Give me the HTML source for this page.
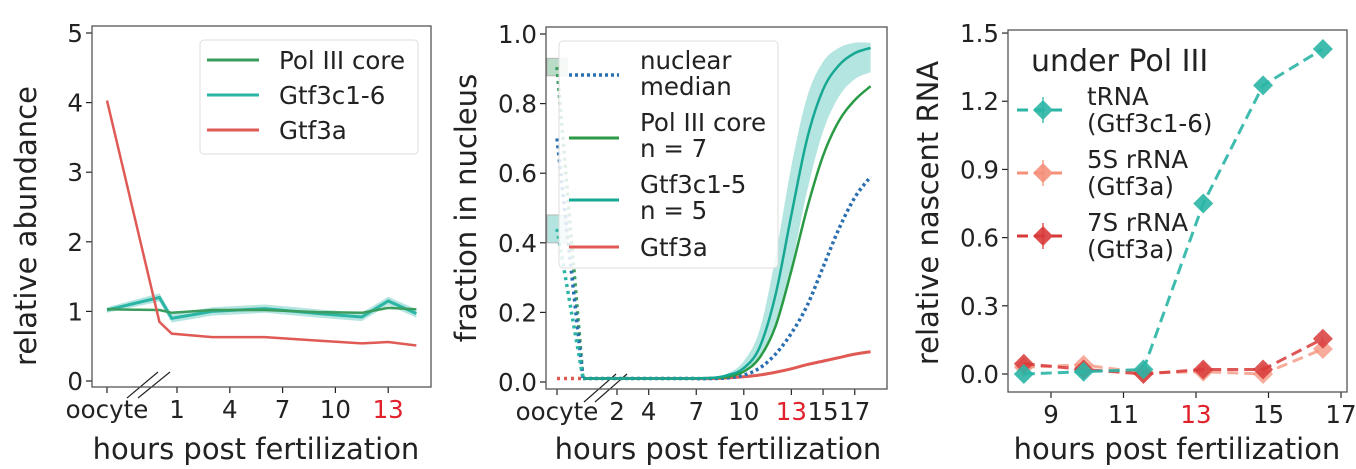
<!DOCTYPE html>
<html><head><meta charset="utf-8">
<style>
html,body{margin:0;padding:0;background:#fff;}
svg{display:block;font-family:"DejaVu Sans","Liberation Sans",sans-serif;}
</style></head>
<body>
<svg id="fig" width="1356" height="469" viewBox="0 0 1356 469" xmlns="http://www.w3.org/2000/svg"></svg>
<script>
// ---------- Panel 1 data ----------
const p1Hours = [0, 0.7, 3, 6, 9, 11.5, 13, 14.6];
const p1Gtf3aOocyte = 4.03;
const p1Gtf3a = [0.85, 0.68, 0.63, 0.63, 0.58, 0.54, 0.56, 0.51];
const p1Gtf3cOocyte = 1.02;
const p1Gtf3c = [1.2, 0.9, 1.0, 1.04, 0.97, 0.92, 1.15, 0.97];
const p1PolOocyte = 1.03;
const p1Pol = [1.02, 0.98, 1.02, 1.02, 0.99, 0.98, 1.05, 1.03];
const p1YTicks = [0, 1, 2, 3, 4, 5];
const p1XTicks = [1, 4, 7, 10, 13];

// ---------- Panel 2 data ----------
const p2Hours = [2, 4, 6, 8, 9, 10, 11, 12, 13, 14, 15, 16, 17, 18];
const p2Gtf3c = [0.01,0.01,0.01,0.012,0.02,0.04,0.1,0.25,0.48,0.7,0.84,0.91,0.945,0.96];
const p2Gtf3cHi = [0.01,0.01,0.012,0.015,0.025,0.06,0.15,0.36,0.62,0.82,0.92,0.96,0.975,0.975];
const p2Gtf3cLo = [0.01,0.01,0.01,0.01,0.015,0.03,0.07,0.16,0.33,0.55,0.72,0.82,0.87,0.89];
const p2Pol = [0.01,0.01,0.01,0.012,0.015,0.03,0.07,0.16,0.32,0.5,0.65,0.75,0.81,0.85];
const p2Median = [0.01,0.01,0.01,0.01,0.012,0.02,0.04,0.08,0.14,0.22,0.33,0.44,0.53,0.59];
const p2Gtf3a = [0.01,0.01,0.01,0.01,0.012,0.015,0.02,0.028,0.038,0.05,0.06,0.07,0.08,0.087];
const p2Oocyte = {pol: 0.905, polLo: 0.88, polHi: 0.93, median: 0.7, gtf3c: 0.44, gtf3cLo: 0.40, gtf3cHi: 0.48, gtf3a: 0.01};
const p2YTicks = [0, 0.2, 0.4, 0.6, 0.8, 1.0];
const p2XTicks = [2, 4, 7, 10, 13, 15, 17];

// ---------- Panel 3 data ----------
const p3Hours = [8.25, 9.9, 11.55, 13.2, 14.85, 16.5];
const p3tRNA = [0, 0.01, 0.02, 0.75, 1.27, 1.43];
const p35S = [0.03, 0.04, 0.005, 0.01, 0.0, 0.11];
const p37S = [0.045, 0.02, 0.0, 0.02, 0.02, 0.155];
const p3YTicks = [0, 0.3, 0.6, 0.9, 1.2, 1.5];
const p3XTicks = [9, 11, 13, 15, 17];

const svg = document.getElementById('fig');
const NS = 'http://www.w3.org/2000/svg';
const TF = 24.5, LF = 24.5, AF = 29;
function mk(tag, attrs, parent) {
  const e = document.createElementNS(NS, tag);
  for (const k in attrs) e.setAttribute(k, attrs[k]);
  (parent || svg).appendChild(e);
  return e;
}
function txt(s, attrs, parent) { const t = mk('text', attrs, parent); t.textContent = s; return t; }
function smooth(pts) {
  let d = 'M' + pts[0][0] + ',' + pts[0][1];
  for (let i = 0; i < pts.length - 1; i++) {
    const p0 = pts[i - 1] || pts[i], p1 = pts[i], p2 = pts[i + 1], p3 = pts[i + 2] || p2;
    const c1x = p1[0] + (p2[0] - p0[0]) / 6, c1y = p1[1] + (p2[1] - p0[1]) / 6;
    const c2x = p2[0] - (p3[0] - p1[0]) / 6, c2y = p2[1] - (p3[1] - p1[1]) / 6;
    d += ' C' + c1x + ',' + c1y + ' ' + c2x + ',' + c2y + ' ' + p2[0] + ',' + p2[1];
  }
  return d;
}
function poly(pts) { return 'M' + pts.map(p => p[0] + ',' + p[1]).join(' L'); }

const AX = '#222';
function frame(x0, y0, x1, y1, name) {
  const r = mk('rect', {x: x0, y: y0, width: x1 - x0, height: y1 - y0, fill: 'none', stroke: '#555', 'stroke-width': 1.3});
  
  
}
function ytick(x0, y, label, g) {
  mk('line', {x1: x0 - 6, x2: x0, y1: y, y2: y, stroke: AX, 'stroke-width': 1.2}, g);
  txt(label, {x: x0 - 9, y: y + 9, 'text-anchor': 'end', 'font-size': TF, fill: AX}, g);
}
function xtick(x, y1, label, g, color) {
  mk('line', {x1: x, x2: x, y1: y1, y2: y1 + 6, stroke: AX, 'stroke-width': 1.2}, g);
  txt(label, {x: x, y: y1 + 31, 'text-anchor': 'middle', 'font-size': TF, fill: color || AX}, g);
}

// ================= Panel 1 =================
(function () {
  const X0 = 92, X1 = 431, Y0 = 26, Y1 = 387;
  const yS = v => 381 - v * 69.6;
  const xS = h => 177 + (h - 1) * 17.6;
  const xOo = 107;
  const g = mk('g', {});
  
  
  frame(X0, Y0, X1, Y1, 'abundance-plot-frame');
  const yt = mk('g', {}, g);
  
  
  p1YTicks.forEach(v => ytick(X0, yS(v), String(v), yt));
  const xt = mk('g', {}, g);
  
  
  xtick(xOo, Y1, 'oocyte', xt);
  p1XTicks.forEach(v => xtick(xS(v), Y1, String(v), xt, v === 13 ? '#e0202a' : AX));
  mk('line', {x1: 127, y1: 398, x2: 158, y2: 372, stroke: AX, 'stroke-width': 1.2}, g);
  mk('line', {x1: 138, y1: 398, x2: 170, y2: 372, stroke: AX, 'stroke-width': 1.2}, g);
  const yl = txt('relative abundance', {x: 36, y: 226, 'text-anchor': 'middle', 'font-size': AF, fill: AX, transform: 'rotate(-90 36 226)'}, g);
  
  
  const xl = txt('hours post fertilization', {x: 256, y: 459, 'text-anchor': 'middle', 'font-size': AF, fill: AX}, g);
  
  

  const band = [[xOo, yS(p1Gtf3cOocyte + 0.04)]].concat(p1Hours.map((h, i) => [xS(h), yS(p1Gtf3c[i] + 0.06)]));
  const bandLo = [[xOo, yS(p1Gtf3cOocyte - 0.04)]].concat(p1Hours.map((h, i) => [xS(h), yS(p1Gtf3c[i] - 0.06)]));
  const b = mk('path', {d: poly(band) + ' L' + bandLo.reverse().map(p => p[0] + ',' + p[1]).join(' L') + ' Z', fill: '#2ab5a5', opacity: 0.35}, g);
  
  
  const ptsC = [[xOo, yS(p1Gtf3cOocyte)]].concat(p1Hours.map((h, i) => [xS(h), yS(p1Gtf3c[i])]));
  const lc = mk('path', {d: poly(ptsC), fill: 'none', stroke: '#2ab5a5', 'stroke-width': 3}, g);
  
  
  const ptsP = [[xOo, yS(p1PolOocyte)]].concat(p1Hours.map((h, i) => [xS(h), yS(p1Pol[i])]));
  const lp = mk('path', {d: poly(ptsP), fill: 'none', stroke: '#3a9d5d', 'stroke-width': 2.5}, g);
  
  
  const ptsA = [[xOo, yS(p1Gtf3aOocyte)]].concat(p1Hours.map((h, i) => [xS(h), yS(p1Gtf3a[i])]));
  const la = mk('path', {d: poly(ptsA), fill: 'none', stroke: '#e05a55', 'stroke-width': 2.5}, g);
  
  

  const lg = mk('g', {}, g);
  
  
  mk('rect', {x: 200, y: 40, width: 218, height: 114, rx: 4, fill: '#fff', 'fill-opacity': 0.85, stroke: '#ddd'}, lg);
  [['Pol III core', '#3a9d5d', 60], ['Gtf3c1-6', '#2ab5a5', 95], ['Gtf3a', '#e05a55', 130]].forEach(([l, c, y]) => {
    mk('line', {x1: 207, x2: 259, y1: y, y2: y, stroke: c, 'stroke-width': 3}, lg);
    txt(l, {x: 279, y: y + 9, 'font-size': LF, fill: AX}, lg);
  });
})();

// ================= Panel 2 =================
(function () {
  const X0 = 546, X1 = 887, Y0 = 27, Y1 = 389;
  const yS = v => 382 - v * 348;
  const xS = h => 617 + (h - 2) * 15.85;
  const xOo = 557, xStart = 583;
  const g = mk('g', {});
  
  
  frame(X0, Y0, X1, Y1, 'nuclear-plot-frame');
  const yt = mk('g', {}, g);
  
  
  p2YTicks.forEach(v => ytick(X0, yS(v), v.toFixed(1), yt));
  const xt = mk('g', {}, g);
  
  
  xtick(xOo, Y1, 'oocyte', xt);
  p2XTicks.forEach(v => xtick(xS(v), Y1, String(v), xt, v === 13 ? '#e0202a' : AX));
  mk('line', {x1: 584, y1: 402, x2: 616, y2: 374, stroke: AX, 'stroke-width': 1.2}, g);
  mk('line', {x1: 595, y1: 402, x2: 627, y2: 374, stroke: AX, 'stroke-width': 1.2}, g);
  const yl = txt('fraction in nucleus', {x: 476, y: 208, 'text-anchor': 'middle', 'font-size': AF, fill: AX, transform: 'rotate(-90 476 208)'}, g);
  
  
  const xl = txt('hours post fertilization', {x: 718, y: 459, 'text-anchor': 'middle', 'font-size': AF, fill: AX}, g);
  
  

  const bx1 = mk('rect', {x: xOo - 10, y: yS(p2Oocyte.polHi), width: 20, height: yS(p2Oocyte.polLo) - yS(p2Oocyte.polHi), fill: '#3a9d5d', opacity: 0.35, stroke: '#333', 'stroke-width': 1}, g);
  
  
  const bx2 = mk('rect', {x: xOo - 10, y: yS(p2Oocyte.gtf3cHi), width: 20, height: yS(p2Oocyte.gtf3cLo) - yS(p2Oocyte.gtf3cHi), fill: '#2ab5a5', opacity: 0.35, stroke: '#333', 'stroke-width': 1}, g);
  
  
  const y0 = yS(p2Gtf3a[0]);
  [[p2Oocyte.pol, '#3a9d5d'], [p2Oocyte.median, '#2a6fb0'], [p2Oocyte.gtf3c, '#2ab5a5'], [p2Oocyte.gtf3a, '#e05a55']].forEach(([v, c]) => {
    const l = mk('line', {x1: xOo, y1: yS(v), x2: xStart, y2: y0, stroke: c, 'stroke-width': 3.5, 'stroke-dasharray': '3 4'}, g);
    
    
  });

  function series(arr) { return [[xStart, yS(arr[0])]].concat(p2Hours.map((h, i) => [xS(h), yS(arr[i])])); }
  const hi = series(p2Gtf3cHi), lo = series(p2Gtf3cLo);
  const loRev = lo.slice().reverse();
  const band = mk('path', {d: smooth(hi) + ' L' + loRev[0][0] + ',' + loRev[0][1] + smooth(loRev).replace(/^M[^C]*/, ' ') + ' Z', fill: '#2ab5a5', opacity: 0.35}, g);
  
  
  const ga = mk('path', {d: smooth(series(p2Gtf3a)), fill: 'none', stroke: '#e05a55', 'stroke-width': 3}, g);
  
  
  const md = mk('path', {d: smooth(series(p2Median)), fill: 'none', stroke: '#2a6fb0', 'stroke-width': 3.5, 'stroke-dasharray': '3 3'}, g);
  
  
  const pc = mk('path', {d: smooth(series(p2Pol)), fill: 'none', stroke: '#2a9a45', 'stroke-width': 2.5}, g);
  
  
  const gc = mk('path', {d: smooth(series(p2Gtf3c)), fill: 'none', stroke: '#17a893', 'stroke-width': 2.5}, g);
  
  

  const lg = mk('g', {}, g);
  
  
  mk('rect', {x: 559, y: 41, width: 219, height: 227, rx: 4, fill: '#fff', 'fill-opacity': 0.85, stroke: '#ddd'}, lg);
  mk('line', {x1: 569, x2: 619, y1: 75, y2: 75, stroke: '#2a6fb0', 'stroke-width': 3.5, 'stroke-dasharray': '3 3'}, lg);
  txt('nuclear', {x: 640, y: 69, 'font-size': LF, fill: AX}, lg);
  txt('median', {x: 640, y: 95, 'font-size': LF, fill: AX}, lg);
  mk('line', {x1: 569, x2: 619, y1: 138, y2: 138, stroke: '#2a9a45', 'stroke-width': 3}, lg);
  txt('Pol III core', {x: 640, y: 131, 'font-size': LF, fill: AX}, lg);
  txt('n = 7', {x: 640, y: 157, 'font-size': LF, fill: AX}, lg);
  mk('line', {x1: 569, x2: 619, y1: 200, y2: 200, stroke: '#17a893', 'stroke-width': 3}, lg);
  txt('Gtf3c1-5', {x: 640, y: 193, 'font-size': LF, fill: AX}, lg);
  txt('n = 5', {x: 640, y: 219, 'font-size': LF, fill: AX}, lg);
  mk('line', {x1: 569, x2: 619, y1: 247, y2: 247, stroke: '#e05a55', 'stroke-width': 3}, lg);
  txt('Gtf3a', {x: 640, y: 256, 'font-size': LF, fill: AX}, lg);
})();

// ================= Panel 3 =================
(function () {
  const X0 = 1008, X1 = 1347, Y0 = 30, Y1 = 392;
  const yS = v => 374 - v * 227.3;
  const xS = h => 1051 + (h - 9) * 36.25;
  const g = mk('g', {});
  
  
  frame(X0, Y0, X1, Y1, 'nascent-plot-frame');
  const yt = mk('g', {}, g);
  
  
  p3YTicks.forEach(v => ytick(X0, yS(v), v.toFixed(1), yt));
  const xt = mk('g', {}, g);
  
  
  p3XTicks.forEach(v => xtick(xS(v), Y1, String(v), xt, v === 13 ? '#e0202a' : AX));
  const yl = txt('relative nascent RNA', {x: 938, y: 213, 'text-anchor': 'middle', 'font-size': AF, fill: AX, transform: 'rotate(-90 938 213)'}, g);
  
  
  const xl = txt('hours post fertilization', {x: 1177, y: 459, 'text-anchor': 'middle', 'font-size': AF, fill: AX}, g);
  
  

  function diamond(cx, cy, c, op, parent) {
    mk('path', {d: `M${cx},${cy - 10} L${cx + 10},${cy} L${cx},${cy + 10} L${cx - 10},${cy} Z`, fill: c, opacity: op}, parent);
  }
  [[p35S, '#f4907a', 0.75, 'rrna-5s-series'], [p37S, '#d83a3a', 0.85, 'rrna-7s-series'], [p3tRNA, '#2ab5a5', 0.9, 'trna-series']].forEach(([arr, c, op, name]) => {
    const sg = mk('g', {}, g);
    
    
    const pts = p3Hours.map((h, i) => [xS(h), yS(arr[i])]);
    mk('path', {d: poly(pts), fill: 'none', stroke: c, 'stroke-width': 3, 'stroke-dasharray': '11 6', opacity: op}, sg);
    pts.forEach(p => diamond(p[0], p[1], c, op, sg));
  });

  const lg = mk('g', {}, g);
  
  
  txt('under Pol III', {x: 1031, y: 71, 'font-size': 30, fill: AX}, lg);
  [['tRNA', '(Gtf3c1-6)', '#2ab5a5', 110], ['5S rRNA', '(Gtf3a)', '#f4907a', 173], ['7S rRNA', '(Gtf3a)', '#d83a3a', 236]].forEach(([a, b, c, y]) => {
    mk('line', {x1: 1017, x2: 1066, y1: y, y2: y, stroke: c, 'stroke-width': 3, 'stroke-dasharray': '11 6'}, lg);
    mk('line', {x1: 1043, x2: 1043, y1: y - 13, y2: y + 13, stroke: c, 'stroke-width': 1.3}, lg);
    diamond(1043, y, c, 0.9, lg);
    txt(a, {x: 1087, y: y - 5, 'font-size': LF, fill: AX}, lg);
    txt(b, {x: 1087, y: y + 22, 'font-size': LF, fill: AX}, lg);
  });
})();
</script>
</body></html>
